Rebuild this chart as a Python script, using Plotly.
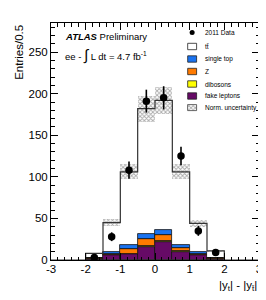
import numpy as np
import plotly.graph_objects as go

# ---------------- data ----------------
bin_centers = [-2.75, -2.25, -1.75, -1.25, -0.75, -0.25, 0.25, 0.75, 1.25, 1.75, 2.25, 2.75]
bin_edges = [-3, -2.5, -2, -1.5, -1, -0.5, 0, 0.5, 1, 1.5, 2, 2.5, 3]
total_mc = [0, 0, 8, 45, 106, 182, 192, 106, 44, 11, 0, 0]
fake_leptons = [0, 0, 1.5, 6, 7, 16, 22, 10, 6, 1.5, 0, 0]
dibosons = [0, 0, 0.2, 0.4, 0.6, 0.8, 0.8, 0.6, 0.4, 0.2, 0, 0]
z_bkg = [0, 0, 0.3, 1, 6, 9, 7, 3.5, 1, 0.3, 0, 0]
single_top = [0, 0, 0.5, 2.5, 4, 6, 6.5, 4, 2.5, 0.5, 0, 0]
norm_unc_frac = 0.085

data_x = [-1.75, -1.25, -0.75, -0.25, 0.25, 0.75, 1.25, 1.75]
data_y = [3, 28, 108, 191, 195, 125, 35, 9]

x_ticks = [-3, -2, -1, 0, 1, 2, 3]
y_ticks = [0, 50, 100, 150, 200, 250]

# ---------------- derived ----------------
tot = np.array(total_mc, float)
fk = np.array(fake_leptons, float)
db = np.array(dibosons, float)
zz = np.array(z_bkg, float)
st = np.array(single_top, float)
ttbar = tot - fk - db - zz - st

C_FAKE = "#660a66"
C_DIB = "#ffff00"
C_Z = "#ff7a00"
C_ST = "#1a73f0"
PATTERN = dict(shape="x", fgcolor="#555555", size=3, solidity=0.5, bgcolor="rgba(0,0,0,0)")

fig = go.Figure()

# ttbar (white) from stack top to total
fig.add_trace(go.Bar(x=bin_centers, y=ttbar, base=fk + db + zz + st, width=0.5,
                     textposition="none",
                     marker=dict(color="white", line=dict(width=0)), showlegend=False))
# stacked backgrounds
base = np.zeros_like(tot)
for vals, col in [(fk, C_FAKE), (db, C_DIB), (zz, C_Z), (st, C_ST)]:
    mask = vals > 0
    fig.add_trace(go.Bar(x=np.array(bin_centers)[mask], y=vals[mask], base=base[mask], width=0.5,
                         textposition="none",
                         marker=dict(color=col, line=dict(color="#111111", width=0.8)),
                         showlegend=False))
    base = base + vals

# total step outline
fig.add_trace(go.Scatter(x=bin_edges, y=list(tot) + [tot[-1]], mode="lines",
                         line=dict(color="#333333", width=1.2, shape="hv"),
                         showlegend=False, hoverinfo="skip"))

# normalisation uncertainty band
m = tot > 0
err = tot * norm_unc_frac
fig.add_trace(go.Bar(x=np.array(bin_centers)[m], y=(2 * err)[m], base=(tot - err)[m], width=0.5,
                     textposition="none",
                     marker=dict(color="rgba(0,0,0,0)", line=dict(width=0), pattern=PATTERN),
                     showlegend=False))

# data
fig.add_trace(go.Scatter(x=data_x, y=data_y, mode="markers",
                         marker=dict(color="black", size=7.5),
                         error_y=dict(type="data", array=np.sqrt(data_y), color="black",
                                      thickness=1.6, width=0),
                         showlegend=False))

# ---------------- manual legend ----------------
def px2paper(px, py):
    return (px - 43) / 210.0, (252 - py) / 237.0

legend_rows = [
    ("2011 Data", "data", 24.5),
    ("tt\u0304", "white", 38.5),
    ("single top", C_ST, 51),
    ("Z", C_Z, 63.5),
    ("dibosons", C_DIB, 76),
    ("fake leptons", C_FAKE, 88),
    ("Norm. uncertainty", "band", 100),
]
shapes = []
annotations = []
for label, kind, py in legend_rows:
    tx, ty = px2paper(196, py)
    annotations.append(dict(x=tx, y=ty, xref="paper", yref="paper", text=label, showarrow=False,
                            xanchor="left", yanchor="middle",
                            font=dict(size=6.5, color="black", family="Liberation Sans")))
    x0, y0 = px2paper(181, py + 3.2)
    x1, y1 = px2paper(190, py - 3.2)
    if kind == "data":
        cx, cy = px2paper(185.5, py)
        fig.add_trace(go.Scatter(x=[cx], y=[cy], xaxis="x2", yaxis="y2", mode="markers",
                                 marker=dict(color="black", size=5), showlegend=False, hoverinfo="skip"))
    elif kind == "band":
        fig.add_trace(go.Bar(x=[(x0 + x1) / 2], y=[y1 - y0], base=[y0], width=[x1 - x0],
                             xaxis="x2", yaxis="y2", textposition="none",
                             marker=dict(color="rgba(0,0,0,0)", line=dict(color="#444", width=0.8),
                                         pattern=PATTERN),
                             showlegend=False, hoverinfo="skip"))
    else:
        shapes.append(dict(type="rect", xref="paper", yref="paper", x0=x0, x1=x1, y0=y0, y1=y1,
                           fillcolor=kind, line=dict(color="#222", width=0.8)))

# ATLAS label
ax_, ay_ = px2paper(55, 29)
annotations.append(dict(x=ax_, y=ay_, xref="paper", yref="paper", showarrow=False,
                        xanchor="left", yanchor="middle",
                        text="<b><i>ATLAS</i></b> Preliminary",
                        font=dict(size=9.5, color="black", family="Liberation Sans")))
bx_, by_ = px2paper(55, 47)
annotations.append(dict(x=bx_, y=by_, xref="paper", yref="paper", showarrow=False,
                        xanchor="left", yanchor="middle",
                        text="ee - <span style='font-size:15px'>∫</span> L dt = 4.7 fb<sup>-1</sup>",
                        font=dict(size=9.5, color="black", family="Liberation Sans")))

# axis titles
annotations.append(dict(x=-33 / 210.0, y=1.0, xref="paper", yref="paper", showarrow=False,
                        text="Entries/0.5", xanchor="center", yanchor="top", textangle=-90,
                        font=dict(size=11.5, color="black", family="Liberation Sans")))
annotations.append(dict(x=1.0, y=-(278 - 252) / 237.0, xref="paper", yref="paper", showarrow=False,
                        xanchor="right", yanchor="middle",
                        text="|y<sub>t</sub>| - |y<sub>t\u0304</sub>|",
                        font=dict(size=11.5, color="black", family="Liberation Sans")))

axis_common = dict(showgrid=False, zeroline=False, showline=True, linecolor="black", linewidth=1,
                   mirror="allticks", ticks="inside", ticklen=7, tickcolor="black", tickwidth=1,
                   tickfont=dict(size=11.5, color="black", family="Liberation Sans"))

fig.update_layout(
    width=266, height=300,
    margin=dict(l=43, r=13, t=15, b=48),
    paper_bgcolor="white", plot_bgcolor="white",
    barmode="overlay", bargap=0,
    showlegend=False,
    shapes=shapes, annotations=annotations,
    xaxis=dict(range=[-3, 3], tickvals=x_ticks, ticktext=[str(v) for v in x_ticks],
               ticklabelstandoff=-2,
               minor=dict(dtick=0.2, ticks="inside", ticklen=3.5, tickcolor="black"),
               **axis_common),
    yaxis=dict(range=[0, 285], tickvals=y_ticks,
               minor=dict(dtick=10, ticks="inside", ticklen=3.5, tickcolor="black"),
               **axis_common),
    xaxis2=dict(range=[0, 1], overlaying="x", visible=False, fixedrange=True),
    yaxis2=dict(range=[0, 1], overlaying="y", visible=False, fixedrange=True),
)

fig.write_html("out.html")
